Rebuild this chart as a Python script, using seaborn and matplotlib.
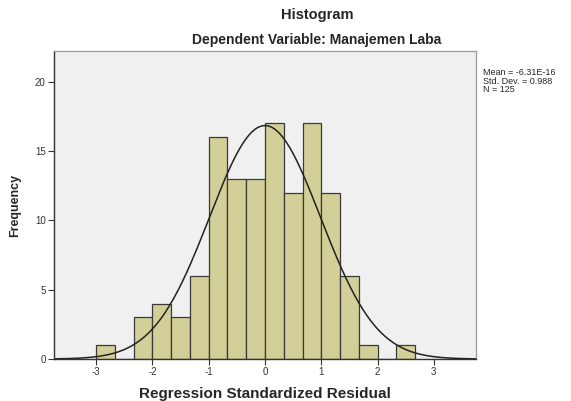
import numpy as np
import pandas as pd
import seaborn as sns
import matplotlib.pyplot as plt

# residual bins (width 1/3) and frequencies
bin_left = [-3.0, -2.667, -2.333, -2.0, -1.667, -1.333, -1.0, -0.667, -0.333,
            0.0, 0.333, 0.667, 1.0, 1.333, 1.667, 2.0, 2.333]
freq = [1, 0, 3, 4, 3, 6, 16, 13, 13, 17, 12, 17, 12, 6, 1, 0, 1]
mean, sd, n = -6.31e-16, 0.988, 125
width = 1 / 3

df = pd.DataFrame({'mid': np.array(bin_left) + width / 2, 'freq': freq})

sns.set_style('white')
plt.rcParams['font.family'] = ['Liberation Sans', 'DejaVu Sans']
plt.rcParams['axes.unicode_minus'] = False

f = plt.figure(figsize=(5.71, 4.01), dpi=100)
ax = f.add_axes([54 / 571, 1 - 359 / 401, (476 - 54) / 571, (359 - 51) / 401])
ax.set_facecolor('#F0F0F0')

sns.histplot(data=df, x='mid', weights='freq', binwidth=width,
             binrange=(-3.0, -3.0 + width * len(freq)), ax=ax,
             color='#D3CF98', alpha=1, edgecolor='#3a3a3a', linewidth=0.9)

# normal curve scaled to counts
xs = np.linspace(-3.75, 3.75, 300)
ys = n * width / (sd * np.sqrt(2 * np.pi)) * np.exp(-0.5 * ((xs - mean) / sd) ** 2)
sns.lineplot(x=xs, y=ys, ax=ax, color='#222222', linewidth=1.1)

ax.set_xlim(-3.75, 3.75)
ax.set_ylim(0, 22.2)
ax.set_xticks([-3, -2, -1, 0, 1, 2, 3])
ax.set_yticks([0, 5, 10, 15, 20])
ax.tick_params(axis='both', length=4, width=0.8, color='#333333',
               labelsize=7, labelcolor='#333333', pad=2, direction='out',
               bottom=True, left=True)
for s in ['top', 'right']:
    ax.spines[s].set_color('#999999')
    ax.spines[s].set_linewidth(0.9)
for s in ['left', 'bottom']:
    ax.spines[s].set_color('#333333')
    ax.spines[s].set_linewidth(1.0)

ax.set_xlabel('Regression Standardized Residual', fontsize=11, fontweight='bold', labelpad=7)
ax.set_ylabel('Frequency', fontsize=9, fontweight='bold', labelpad=10)

f.text(317 / 571, 1 - 15 / 401, 'Histogram', ha='center', va='center',
       fontsize=10.5, fontweight='bold')
f.text(317 / 571, 1 - 40 / 401, 'Dependent Variable: Manajemen Laba', ha='center',
       va='center', fontsize=10, fontweight='bold')
f.text(483 / 571, 1 - 68 / 401, 'Mean = -6.31E-16\nStd. Dev. = 0.988\nN = 125',
       ha='left', va='top', fontsize=6.5, linespacing=0.95)

plt.savefig('out.png', dpi=100)
